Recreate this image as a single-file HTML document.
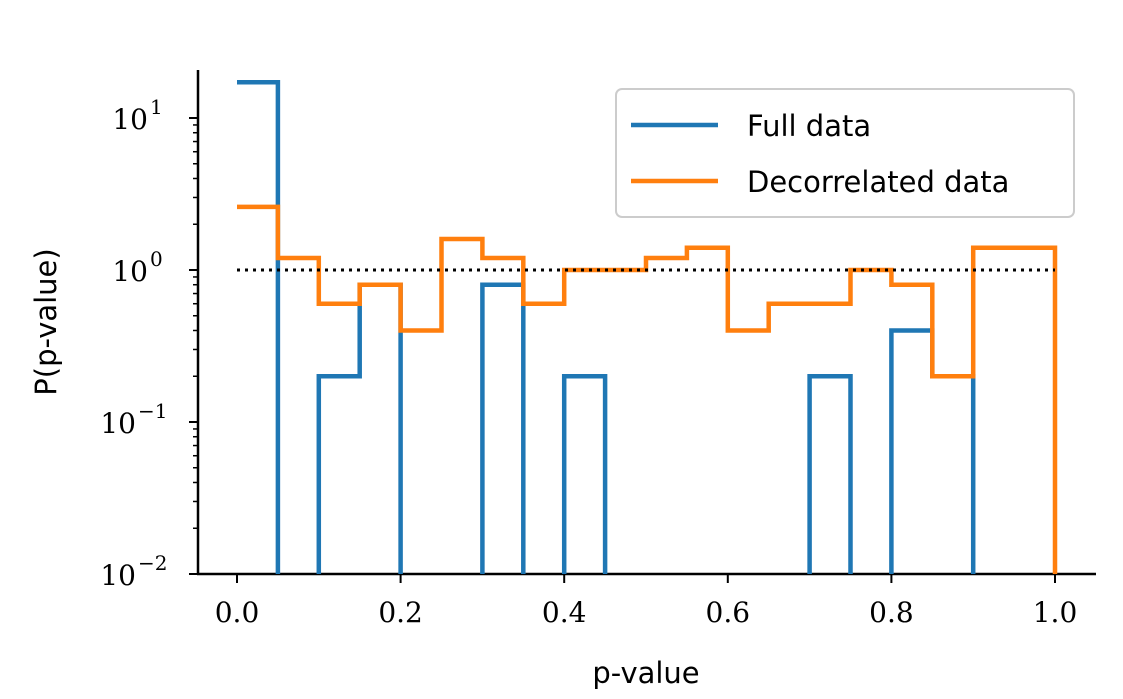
<!DOCTYPE html>
<html><head><meta charset="utf-8"><style>
body{margin:0;background:#fff;}
svg text{fill:#000;}
.serif{font-family:"DejaVu Serif","Liberation Serif",serif;font-size:28px;}
.sans{font-family:"DejaVu Sans","Liberation Sans",sans-serif;font-size:29px;}
</style></head><body>
<svg id="chart" width="1123" height="694" xmlns="http://www.w3.org/2000/svg">
<g id="axes"></g>
<g id="series"></g>
<line x1="237" y1="270" x2="1055" y2="270" stroke="#000" stroke-width="3" stroke-dasharray="3,5"/>
<g>
<rect x="616" y="89" width="458" height="128" rx="6" fill="#fff" fill-opacity="0.8" stroke="#ccc" stroke-width="2"/>
<line x1="631" y1="125" x2="718" y2="125" stroke="#1f77b4" stroke-width="4.5"/>
<text class="sans" x="747" y="136">Full data</text>
<line x1="631" y1="181" x2="718" y2="181" stroke="#ff7f0e" stroke-width="4.5"/>
<text class="sans" x="747" y="192">Decorrelated data</text>
</g>
<text class="sans" x="646" y="683" text-anchor="middle">p-value</text>
<text class="sans" transform="translate(56,322) rotate(-90)" text-anchor="middle">P(p-value)</text>
</svg>
<script>
const binEdges=[0,0.05,0.1,0.15,0.2,0.25,0.3,0.35,0.4,0.45,0.5,0.55,0.6,0.65,0.7,0.75,0.8,0.85,0.9,0.95,1.0];
const fullData=[17.2,0,0.2,0.8,0,0,0.8,0,0.2,0,0,0,0,0,0.2,0,0.4,0.2,0,0];
const decorrelatedData=[2.6,1.2,0.6,0.8,0.4,1.6,1.2,0.6,1.0,1.0,1.2,1.4,0.4,0.6,0.6,1.0,0.8,0.2,1.4,1.4];
const xTicks=[0,0.2,0.4,0.6,0.8,1.0];
const xTickLabels=["0.0","0.2","0.4","0.6","0.8","1.0"];
const yTicks=[1,0,-1,-2];
const ns="http://www.w3.org/2000/svg";
const X=v=>237+v*818;
const Y=v=>{const yl=v<=0?-2.5:Math.log10(v);return Math.min(614,270-yl*152);};
const axes=document.getElementById('axes'),ser=document.getElementById('series');
function mk(t,a,p){const e=document.createElementNS(ns,t);for(const k in a)e.setAttribute(k,a[k]);p.appendChild(e);return e;}
let e=mk('line',{x1:198,y1:70,x2:198,y2:574,stroke:'#000','stroke-width':2.5},axes);

e=mk('line',{x1:197,y1:574,x2:1096,y2:574,stroke:'#000','stroke-width':2.5},axes);

xTicks.forEach((t,i)=>{
 const l=mk('line',{x1:X(t),y1:574,x2:X(t),y2:583,stroke:'#000','stroke-width':2},axes);
 
 const tx=mk('text',{x:X(t),y:622,'text-anchor':'middle',class:'serif'},axes);tx.textContent=xTickLabels[i];
 
});
yTicks.forEach(p=>{
 const y=270-p*152;
 const l=mk('line',{x1:189,y1:y,x2:198,y2:y,stroke:'#000','stroke-width':2},axes);
 
 const tx=mk('text',{x:148,y:y+11,'text-anchor':'end',class:'serif'},axes);
 
 tx.innerHTML='10';
 const sup=mk('text',{x:150,y:y-4,'text-anchor':'start',class:'serif','font-size':'20'},axes);
 
 sup.setAttribute('style','font-size:20px');
 sup.textContent=(p<0?'\u2212'+(-p):String(p));
 if(p<0){tx.setAttribute('x',136);sup.setAttribute('x',138);}
 if(p<1)for(let m=2;m<10;m++){const yy=y-Math.log10(m)*152;
  const ml=mk('line',{x1:193,y1:yy,x2:198,y2:yy,stroke:'#000','stroke-width':1.5},axes);
  }
});
function step(vals,color,name){
 let d='M'+X(binEdges[0])+','+Y(vals[0]);
 vals.forEach((v,i)=>{if(i>0)d+=' L'+X(binEdges[i])+','+Y(v);d+=' L'+X(binEdges[i+1])+','+Y(v);});
 d+=' L'+X(binEdges[binEdges.length-1])+','+Y(0);
 const p=mk('path',{d:d,fill:'none',stroke:color,'stroke-width':4.5,'stroke-linejoin':'miter'},ser);
 
}
const cp=mk('clipPath',{id:'clip'},document.getElementById('chart'));
mk('rect',{x:198,y:0,width:900,height:574},cp);
ser.setAttribute('clip-path','url(#clip)');
step(fullData,'#1f77b4','full-data-step');
step(decorrelatedData,'#ff7f0e','decorrelated-data-step');
</script>
</body></html>
